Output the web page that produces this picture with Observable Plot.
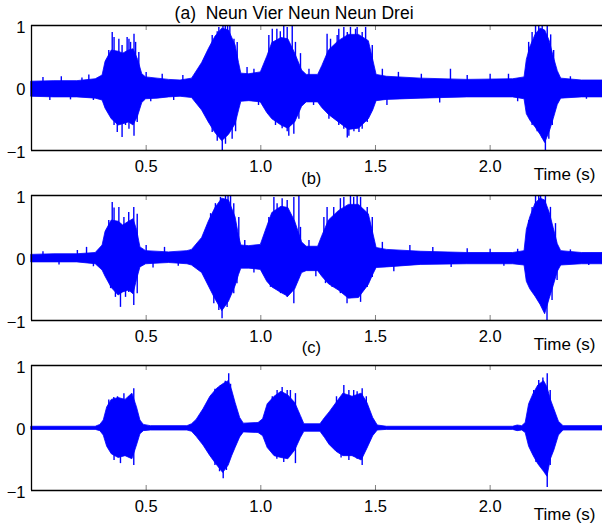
<!DOCTYPE html>
<html><head><meta charset="utf-8">
<script src="https://cdn.jsdelivr.net/npm/d3@7"></script>
<script src="https://cdn.jsdelivr.net/npm/@observablehq/plot@0.6"></script>
<style>
body{margin:0;background:#fff;}
#chart{width:602px;height:530px;overflow:hidden;}
</style></head><body><div id="chart"></div>
<script>
const panels = ["a", "b", "c"];
const panelTitles = ["(a)  Neun Vier Neun Neun Drei", "(b)", "(c)"];
const xTicks = [0.5, 1.0, 1.5, 2.0];
const yTicks = [-1, 0, 1];
const xLabel = "Time (s)";

// dense core of each waveform: [time (s), upper, lower]
const coreA = [
[0.00,0.1,-0.14],[0.10,0.11,-0.15],[0.20,0.11,-0.15],[0.28,0.14,-0.17],[0.31,0.2,-0.2],
[0.323,0.42,-0.33],[0.35,0.6,-0.5],[0.38,0.58,-0.6],[0.40,0.55,-0.58],[0.425,0.6,-0.55],
[0.445,0.62,-0.6],[0.465,0.45,-0.45],[0.483,0.22,-0.24],[0.50,0.17,-0.18],[0.55,0.15,-0.17],
[0.60,0.13,-0.15],[0.65,0.12,-0.14],[0.70,0.15,-0.16],[0.744,0.4,-0.36],[0.773,0.62,-0.55],
[0.802,0.82,-0.72],[0.832,0.95,-0.85],[0.861,0.92,-0.75],[0.89,0.68,-0.58],[0.905,0.4,-0.36],
[0.915,0.23,-0.22],[0.95,0.22,-0.21],[1.00,0.25,-0.23],[1.028,0.5,-0.4],[1.05,0.72,-0.5],
[1.09,0.8,-0.6],[1.12,0.78,-0.65],[1.15,0.55,-0.55],[1.18,0.28,-0.3],[1.20,0.21,-0.23],
[1.25,0.21,-0.23],[1.268,0.35,-0.32],[1.297,0.6,-0.43],[1.34,0.75,-0.55],[1.384,0.85,-0.67],
[1.428,0.85,-0.65],[1.471,0.75,-0.5],[1.49,0.45,-0.36],[1.505,0.21,-0.21],[1.55,0.18,-0.19],
[1.70,0.15,-0.17],[1.90,0.13,-0.15],[2.10,0.14,-0.15],[2.15,0.17,-0.18],[2.16,0.45,-0.42],
[2.175,0.65,-0.52],[2.198,0.85,-0.63],[2.22,0.95,-0.75],[2.24,0.92,-0.88],[2.26,0.75,-0.7],
[2.277,0.5,-0.5],[2.295,0.27,-0.27],[2.31,0.15,-0.17],[2.40,0.12,-0.15],[2.49,0.12,-0.15]
];
const coreB = [
[0.00,0.05,-0.07],[0.10,0.06,-0.07],[0.20,0.06,-0.07],[0.28,0.08,-0.1],[0.31,0.2,-0.2],
[0.323,0.42,-0.3],[0.35,0.6,-0.48],[0.38,0.58,-0.6],[0.40,0.52,-0.55],[0.425,0.58,-0.52],
[0.445,0.62,-0.58],[0.46,0.45,-0.35],[0.475,0.17,-0.15],[0.50,0.11,-0.1],[0.60,0.09,-0.08],
[0.68,0.11,-0.1],[0.70,0.13,-0.12],[0.744,0.32,-0.24],[0.773,0.58,-0.45],[0.802,0.8,-0.66],
[0.832,0.95,-0.85],[0.861,0.92,-0.7],[0.89,0.65,-0.45],[0.905,0.35,-0.27],[0.915,0.2,-0.17],
[0.95,0.19,-0.17],[1.00,0.21,-0.19],[1.028,0.5,-0.38],[1.05,0.72,-0.47],[1.09,0.82,-0.56],
[1.12,0.8,-0.62],[1.15,0.58,-0.5],[1.18,0.25,-0.24],[1.20,0.18,-0.21],[1.25,0.18,-0.21],
[1.268,0.35,-0.3],[1.297,0.6,-0.42],[1.34,0.75,-0.52],[1.384,0.85,-0.65],[1.428,0.85,-0.64],
[1.471,0.7,-0.43],[1.49,0.4,-0.27],[1.505,0.16,-0.16],[1.55,0.13,-0.15],[1.70,0.1,-0.11],
[1.90,0.08,-0.1],[2.10,0.08,-0.1],[2.15,0.11,-0.12],[2.16,0.45,-0.38],[2.175,0.65,-0.5],
[2.198,0.87,-0.62],[2.22,0.95,-0.75],[2.24,0.92,-0.9],[2.26,0.72,-0.65],[2.277,0.48,-0.45],
[2.295,0.22,-0.22],[2.31,0.11,-0.12],[2.40,0.08,-0.1],[2.49,0.08,-0.1]
];
const coreC = [
[0.00,0.02,-0.03],[0.28,0.02,-0.03],[0.30,0.05,-0.05],[0.315,0.12,-0.12],[0.33,0.33,-0.3],
[0.35,0.45,-0.42],[0.38,0.48,-0.48],[0.41,0.45,-0.45],[0.44,0.55,-0.5],[0.46,0.33,-0.28],
[0.475,0.12,-0.1],[0.49,0.05,-0.05],[0.52,0.03,-0.04],[0.68,0.03,-0.04],[0.70,0.06,-0.06],
[0.72,0.13,-0.14],[0.75,0.3,-0.28],[0.78,0.5,-0.45],[0.81,0.63,-0.6],[0.836,0.7,-0.72],
[0.86,0.75,-0.6],[0.875,0.6,-0.45],[0.89,0.4,-0.32],[0.91,0.16,-0.15],[0.926,0.07,-0.07],
[0.99,0.08,-0.08],[1.01,0.14,-0.13],[1.03,0.38,-0.32],[1.06,0.5,-0.45],[1.09,0.58,-0.48],
[1.12,0.52,-0.5],[1.15,0.4,-0.36],[1.175,0.19,-0.16],[1.19,0.06,-0.06],[1.26,0.06,-0.06],
[1.28,0.16,-0.16],[1.30,0.25,-0.27],[1.33,0.4,-0.38],[1.36,0.55,-0.45],[1.40,0.5,-0.45],
[1.44,0.55,-0.52],[1.465,0.4,-0.33],[1.49,0.16,-0.13],[1.51,0.04,-0.04],[1.55,0.02,-0.03],
[2.10,0.02,-0.03],[2.12,0.04,-0.05],[2.14,0.03,-0.04],[2.155,0.08,-0.08],[2.17,0.38,-0.3],
[2.19,0.55,-0.45],[2.21,0.68,-0.58],[2.235,0.75,-0.7],[2.25,0.65,-0.78],[2.265,0.45,-0.5],
[2.28,0.3,-0.36],[2.30,0.1,-0.12],[2.32,0.03,-0.04],[2.49,0.03,-0.04]
];

// individual peaks reaching beyond the core: [time (s), amplitude]
const peaksA = [
[0.337,0.6],[0.352,0.89],[0.36,0.81],[0.381,0.78],[0.395,0.68],[0.417,0.81],[0.425,0.78],[0.432,0.73],[0.447,0.86],[0.454,0.73],[0.468,0.57],
[0.788,0.84],[0.81,0.9],[0.817,0.97],[0.835,1],[0.845,1],[0.855,1],[0.865,1],[0.883,0.78],[0.897,0.73],
[1.035,0.84],[1.05,0.94],[1.07,0.94],[1.085,0.9],[1.1,1],[1.115,0.97],[1.137,1],[1.151,0.73],[1.173,0.55],
[1.289,0.86],[1.304,0.78],[1.333,0.84],[1.34,0.94],[1.362,0.97],[1.377,0.89],[1.391,0.97],[1.413,0.94],[1.42,0.97],[1.442,0.89],[1.457,0.97],[1.486,0.68],
[2.168,0.73],[2.183,0.89],[2.198,1],[2.212,1],[2.227,1],[2.249,1],[2.264,0.85],[2.277,0.6],
[0.36,-0.6],[0.374,-0.71],[0.395,-0.79],[0.41,-0.6],[0.425,-0.66],[0.447,-0.77],[0.461,-0.55],
[0.788,-0.71],[0.81,-0.85],[0.832,-1],[0.846,-0.9],[0.875,-0.82],[0.89,-0.7],
[1.064,-0.6],[1.093,-0.65],[1.115,-0.7],[1.122,-0.77],[1.144,-0.74],[1.166,-0.5],
[1.297,-0.5],[1.34,-0.6],[1.362,-0.66],[1.377,-0.8],[1.384,-0.77],[1.406,-0.7],[1.428,-0.71],[1.442,-0.66],[1.464,-0.55],
[2.183,-0.6],[2.205,-0.7],[2.227,-0.8],[2.241,-1],[2.256,-0.82],[2.271,-0.6],
[0.05,0.17],[0.08,-0.2],[0.13,0.18],[0.17,-0.19],[0.22,0.16],[0.25,0.21],[0.27,-0.2],[0.5,0.25],[0.52,-0.22],[0.57,0.22],[0.62,-0.2],[0.66,0.2],
[0.94,0.33],[0.97,0.3],[0.99,-0.28],[1.21,0.3],[1.23,-0.28],[1.53,0.3],[1.55,-0.28],[1.6,0.25],[1.7,0.22],[1.78,-0.24],[1.827,0.3],[1.9,0.2],
[2.0,0.22],[2.08,0.22],[2.12,-0.22],[2.35,0.18],[2.42,-0.18]
];
const peaksB = [
[0.337,0.6],[0.352,0.89],[0.36,0.8],[0.381,0.81],[0.403,0.65],[0.424,0.73],[0.446,0.81],[0.461,0.7],
[0.345,-0.49],[0.366,-0.63],[0.388,-0.79],[0.41,-0.63],[0.424,-0.55],[0.446,-0.76],[0.461,-0.57],
[0.781,0.71],[0.802,0.87],[0.824,0.97],[0.846,1],[0.857,1],[0.868,1],[0.882,0.87],[0.904,0.65],
[0.795,-0.73],[0.817,-0.84],[0.831,-0.97],[0.853,-0.79],[0.882,-0.57],[0.896,-0.41],
[1.035,0.65],[1.057,0.97],[1.071,0.87],[1.093,0.95],[1.115,0.92],[1.144,0.97],[1.166,1],[1.173,0.49],
[1.042,-0.47],[1.086,-0.57],[1.115,-0.63],[1.144,-0.73],
[1.275,0.65],[1.289,0.81],[1.318,0.81],[1.347,0.95],[1.362,0.97],[1.391,1],[1.405,0.97],[1.42,1],[1.435,0.97],[1.464,0.81],[1.486,0.65],
[1.282,-0.41],[1.311,-0.47],[1.347,-0.57],[1.376,-0.73],[1.405,-0.63],[1.435,-0.71],[1.464,-0.47],[1.486,-0.31],
[2.169,0.6],[2.183,0.81],[2.198,1],[2.212,1],[2.22,1],[2.241,1],[2.263,0.81],[2.285,0.55],
[2.176,-0.47],[2.205,-0.63],[2.234,-0.79],[2.248,-1],[2.27,-0.68],[2.292,-0.36],
[0.05,0.1],[0.12,-0.11],[0.2,0.12],[0.24,0.17],[0.27,-0.14],[0.5,0.2],[0.53,-0.16],[0.58,0.17],[0.64,-0.13],[0.93,0.28],[0.97,-0.24],
[1.21,0.28],[1.24,-0.3],[1.53,0.25],[1.58,-0.22],[1.65,0.2],[1.75,0.17],[1.83,-0.15],[1.9,0.15],[2.0,0.14],[2.06,-0.13],[2.12,0.14],[2.35,0.13],[2.43,-0.12]
];
const peaksC = [
[0.337,0.45],[0.359,0.49],[0.375,0.5],[0.403,0.55],[0.425,0.5],[0.446,0.63],
[0.8,0.62],[0.824,0.68],[0.845,0.75],[0.86,0.87],[0.868,0.7],
[1.05,0.5],[1.071,0.6],[1.093,0.65],[1.115,0.6],[1.129,0.6],[1.151,0.55],
[1.33,0.5],[1.362,0.68],[1.384,0.6],[1.405,0.6],[1.42,0.58],[1.442,0.63],[1.46,0.5],
[2.19,0.6],[2.212,0.76],[2.23,0.8],[2.249,0.87],[2.262,0.6],
[0.36,-0.52],[0.388,-0.57],[0.41,-0.45],[0.446,-0.6],
[0.8,-0.6],[0.82,-0.7],[0.836,-0.81],[0.85,-0.68],
[1.07,-0.5],[1.1,-0.55],[1.151,-0.57],
[1.35,-0.48],[1.384,-0.52],[1.42,-0.5],[1.442,-0.6],
[2.2,-0.55],[2.22,-0.63],[2.249,-0.95],[2.262,-0.6]
];

const coreRows = [], peakRows = [];
[[panels[0], coreA, peaksA], [panels[1], coreB, peaksB], [panels[2], coreC, peaksC]].forEach(([p, core, peaks]) => {
  core.forEach(([t, hi, lo]) => coreRows.push({panel: p, t, hi, lo}));
  peaks.forEach(([t, v]) => peakRows.push({panel: p, t, v}));
});
const titleRows = panels.map((p, i) => ({panel: p, label: panelTitles[i]}));

const blue = "#0000ff";
const font = "'Liberation Sans', Arial, Helvetica, sans-serif";
const chart = Plot.plot({
  width: 602, height: 530,
  marginTop: 25, marginBottom: 40, marginLeft: 31, marginRight: 0,
  facet: {marginTop: 0, marginBottom: 0, marginLeft: 0, marginRight: 0},
  x: {domain: [0, 2.49], axis: null},
  y: {domain: [-1, 1], axis: null},
  fy: {domain: panels, axis: null, paddingInner: 45 / 170, paddingOuter: 0, round: false},
  style: {fontFamily: font, background: "white", color: "black", overflow: "visible"},
  marks: [
    Plot.areaY(coreRows, {x: "t", y1: "lo", y2: "hi", fy: "panel", fill: blue, stroke: blue, strokeWidth: 0.8, curve: "linear"}),
    Plot.ruleX(peakRows, {x: "t", y1: 0, y2: "v", fy: "panel", stroke: blue, strokeWidth: 1.4}),
    Plot.ruleX(xTicks, {x: d => d, y1: 1, y2: 0.92, stroke: "#808080", strokeWidth: 1}),
    Plot.ruleX(xTicks, {x: d => d, y1: -1, y2: -0.92, stroke: "#808080", strokeWidth: 1}),
    Plot.ruleY([-1, 1], {stroke: "black", strokeWidth: 1.3}),
    Plot.ruleX([0], {stroke: "black", strokeWidth: 1.3}),
    Plot.text(xTicks, {x: d => d, y: -1, text: d => d3.format(".1f")(d), lineAnchor: "top", dy: 10, fontSize: 16.5, fill: "black"}),
    Plot.text(yTicks, {x: 0, y: d => d, text: d => d < 0 ? "\u2212" + Math.abs(d) : String(d), textAnchor: "end", dx: -6, dy: 2, fontSize: 16.5, fill: "black"}),
    Plot.text([xLabel], {frameAnchor: "bottom-right", text: d => d, textAnchor: "end", lineAnchor: "top", dx: -7, dy: 17.5, fontSize: 17, fill: "black"}),
    Plot.text(titleRows.slice(0, 1), {fy: "panel", x: 1.145, y: 1, text: "label", lineAnchor: "top", dy: -18.5, fontSize: 17.5, fill: "black"}),
    Plot.text(titleRows.slice(1, 2), {fy: "panel", x: 1.22, y: 1, text: "label", lineAnchor: "top", dy: -23.5, fontSize: 16.5, fill: "black"}),
    Plot.text(titleRows.slice(2, 3), {fy: "panel", x: 1.22, y: 1, text: "label", lineAnchor: "top", dy: -24.5, fontSize: 16.5, fill: "black"})
  ]
});
document.getElementById("chart").appendChild(chart);
</script></body></html>
